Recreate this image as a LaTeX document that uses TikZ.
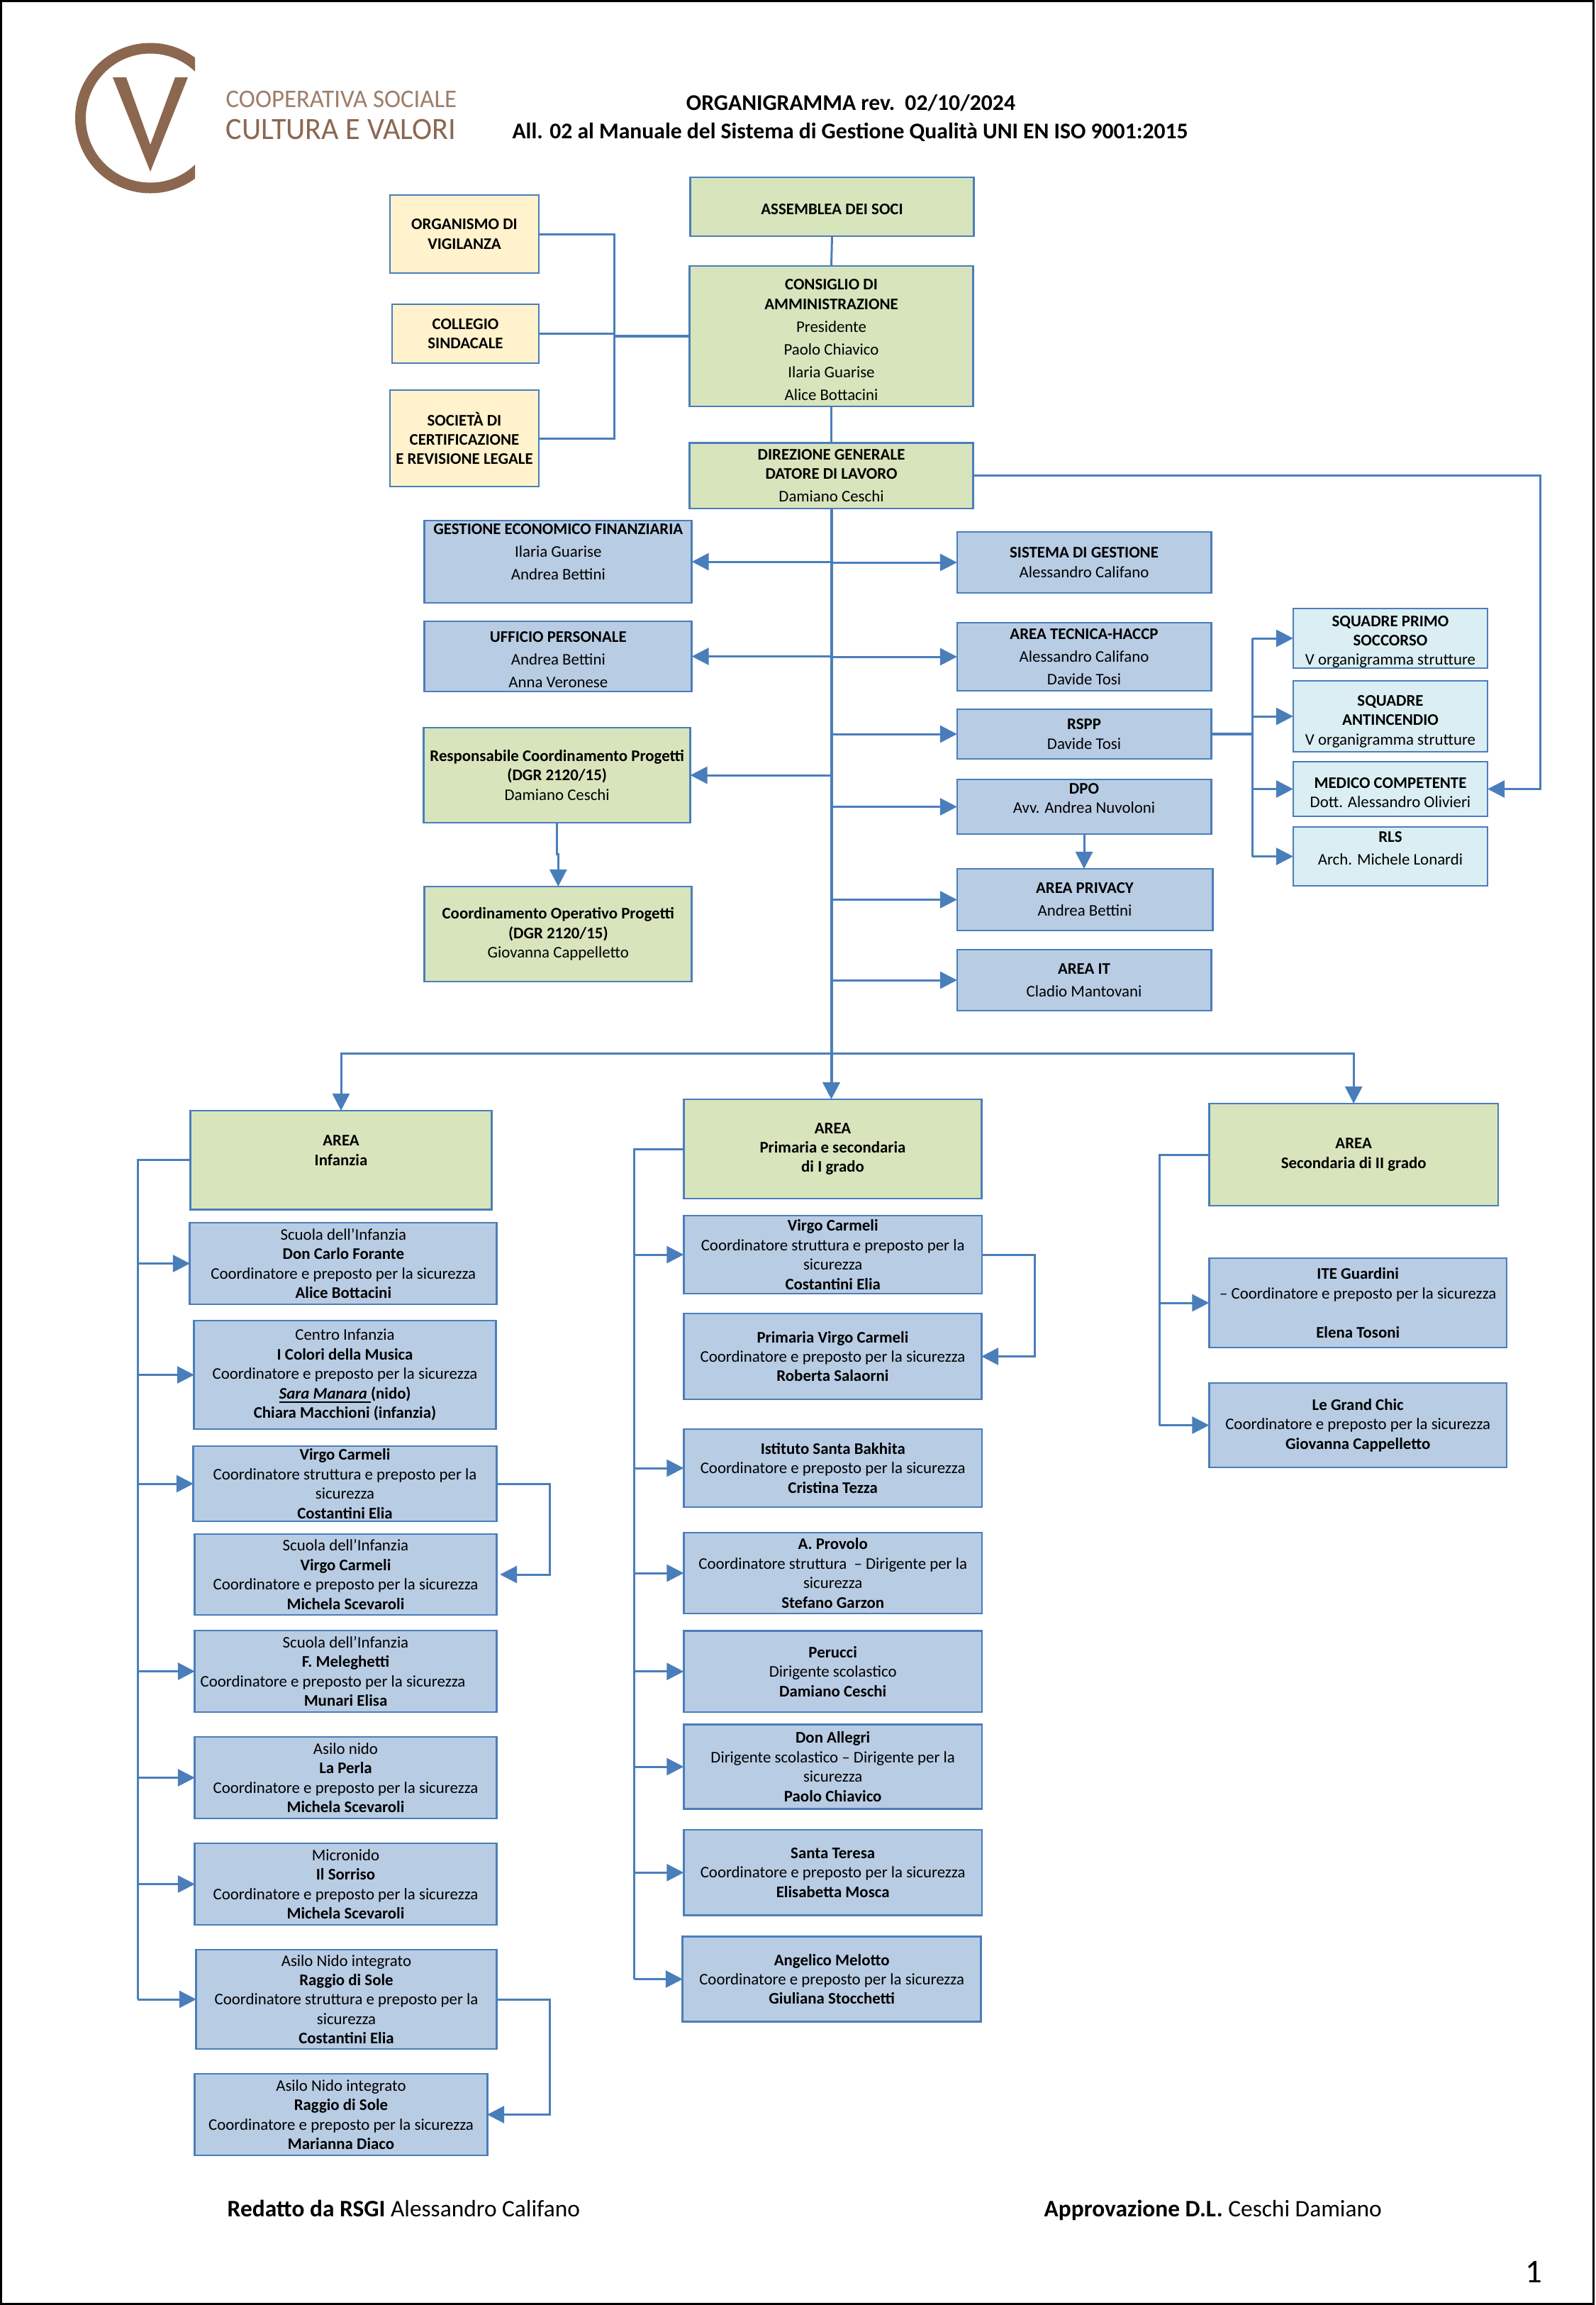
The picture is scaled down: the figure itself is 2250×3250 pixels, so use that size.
\documentclass[tikz,border=0pt]{standalone}
\usepackage{fontspec}
\setmainfont{Carlito}
\newfontfamily\logofont[FakeStretch=0.97]{Carlito}
\usetikzlibrary{positioning,arrows.meta}
\definecolor{linecol}{HTML}{4A7EBB}
\definecolor{bluefill}{HTML}{B8CCE4}
\definecolor{greenfill}{HTML}{D8E4BC}
\definecolor{creamfill}{HTML}{FFF2CC}
\definecolor{skyfill}{HTML}{DAEEF3}
\definecolor{logobrown}{HTML}{8C6750}
\newcommand\pad[1]{\rule{0pt}{#1pt}}
\tikzset{
    dims/.style 2 args={minimum width=#1cm,minimum height=#2cm},
    orgbox/.style={draw=linecol,line width=0.028cm,inner sep=0pt,outer sep=0pt,align=center,font=\fontsize{6.5}{7.8}\selectfont,execute at begin node={\pad{6.5}}},
    bluebox/.style={orgbox,fill=bluefill},
    greenbox/.style={orgbox,fill=greenfill},
    creambox/.style={orgbox,fill=creamfill},
    skybox/.style={orgbox,fill=skyfill},
    joinline/.style={draw=linecol,line width=0.03cm},
    trunkline/.style={draw=linecol,line width=0.04cm},
    arrowline/.style={joinline,-{Triangle[length=0.24cm,width=0.24cm]}}
}
\begin{document}
\begin{tikzpicture}[x=0.01cm,y=-0.01cm]
    \useasboundingbox (0,0) rectangle (2250,3250);
    \draw[black,line width=0.03cm] (1,1) rectangle (2247,3248.5);

    \begin{scope}
        \clip (90,50) rectangle (275,285);
        \draw[logobrown,line width=0.15cm] (212,166.5) circle (98.5);
    \end{scope}
    \fill[logobrown] (159,109) -- (178,109) -- (212,204) -- (247,109) -- (265,109) -- (212,242) -- cycle;
    \node[anchor=base west,inner sep=0pt,text=logobrown!85!white,font=\logofont\fontsize{10.2}{12}\selectfont] (logotop) at (318,151.5) {COOPERATIVA SOCIALE};
    \node[anchor=base west,inner sep=0pt,text=logobrown,font=\logofont\fontsize{12.4}{14}\selectfont] (logobot) at (318,196.5) {CULTURA E VALORI};

    \node[anchor=base,inner sep=0pt,font=\bfseries\fontsize{9}{10}\selectfont] (titleone) at (1200,155) {ORGANIGRAMMA rev.\ \ 02/10/2024};
    \node[anchor=base,inner sep=0pt,font=\bfseries\fontsize{9}{10}\selectfont] (titletwo) at (1199,195) {All. 02 al Manuale del Sistema di Gestione Qualità UNI EN ISO 9001:2015};

    \node[creambox,dims={2.10}{1.10}] (organismo) at (655,330) {\textbf{ORGANISMO DI}\\\textbf{VIGILANZA}};
    \node[creambox,dims={2.07}{0.83}] (collegio) at (656.5,470.5) {\textbf{COLLEGIO}\\\textbf{SINDACALE}};
    \node[creambox,dims={2.10}{1.36}] (societa) at (655,618) {\textbf{SOCIETÀ DI}\\\textbf{CERTIFICAZIONE}\\\textbf{E REVISIONE LEGALE}};

    \node[greenbox,dims={3.99}{0.83}] (assemblea) at (1173.5,291.5) {\textbf{ASSEMBLEA DEI SOCI}};
    \node[greenbox,dims={3.99}{1.98}] (consiglio) at (1172.5,474) {\pad{7.1}\textbf{CONSIGLIO DI}\\\textbf{AMMINISTRAZIONE}\\[1.3pt]Presidente\\[1.3pt]Paolo Chiavico\\[1.3pt]Ilaria Guarise\\[1.3pt]Alice Bottacini};
    \node[greenbox,dims={3.99}{0.925}] (direzione) at (1172.5,670.7) {\textbf{DIREZIONE GENERALE}\\\textbf{DATORE DI LAVORO}\\[1.3pt]Damiano Ceschi};

    \node[bluebox,dims={3.766}{1.16}] (gestione) at (787.3,792) {\textbf{GESTIONE ECONOMICO FINANZIARIA}\\[1.3pt]Ilaria Guarise\\[1.3pt]Andrea Bettini\\\mbox{}};
    \node[bluebox,dims={3.766}{0.99}] (ufficio) at (787.3,925.5) {\pad{7.1}\textbf{UFFICIO PERSONALE}\\[1.3pt]Andrea Bettini\\[1.3pt]Anna Veronese};
    \node[greenbox,dims={3.754}{1.34}] (respprog) at (785.7,1093) {\textbf{Responsabile Coordinamento Progetti}\\\textbf{(DGR 2120/15)}\\Damiano Ceschi};
    \node[greenbox,dims={3.766}{1.34}] (coordprog) at (787.3,1317) {\textbf{Coordinamento Operativo Progetti}\\\textbf{(DGR 2120/15)}\\Giovanna Cappelletto};

    \node[bluebox,dims={3.58}{0.86}] (sistema) at (1529,793) {\textbf{SISTEMA DI GESTIONE}\\Alessandro Califano};
    \node[bluebox,dims={3.58}{0.96}] (tecnica) at (1529,926) {\textbf{AREA TECNICA-HACCP}\\[1.3pt]Alessandro Califano\\[1.3pt]Davide Tosi};
    \node[bluebox,dims={3.58}{0.70}] (rspp) at (1529,1035) {\textbf{RSPP}\\Davide Tosi};
    \node[bluebox,dims={3.58}{0.77}] (dpo) at (1529,1137.5) {\textbf{DPO}\\Avv. Andrea Nuvoloni\\[-1pt]\mbox{}};
    \node[bluebox,dims={3.60}{0.87}] (privacy) at (1530,1268.5) {\textbf{AREA PRIVACY}\\[1.3pt]Andrea Bettini};
    \node[bluebox,dims={3.58}{0.86}] (areait) at (1529,1382) {\textbf{AREA IT}\\[1.3pt]Cladio Mantovani};

    \node[skybox,dims={2.74}{0.84}] (primosoc) at (1961,900) {\pad{7.1}\textbf{SQUADRE PRIMO}\\\textbf{SOCCORSO}\\V organigramma strutture};
    \node[skybox,dims={2.74}{1.00}] (antinc) at (1961,1010) {\pad{8.3}\textbf{SQUADRE}\\\textbf{ANTINCENDIO}\\V organigramma strutture};
    \node[skybox,dims={2.74}{0.77}] (medico) at (1961,1112.5) {\pad{7.1}\textbf{MEDICO COMPETENTE}\\Dott. Alessandro Olivieri};
    \node[skybox,dims={2.74}{0.83}] (rls) at (1961,1207.5) {\textbf{RLS}\\[1.3pt]Arch. Michele Lonardi\\[-1pt]\mbox{}};

    \node[greenbox,dims={4.25}{1.395}] (infanzia) at (481,1635.7) {\textbf{AREA}\\\textbf{Infanzia}\\\mbox{}};
    \node[bluebox,dims={4.326}{1.15}] (forante) at (484.3,1781.5) {Scuola dell'Infanzia\\\textbf{Don Carlo Forante}\\Coordinatore e preposto per la sicurezza\\\textbf{Alice Bottacini}};
    \node[bluebox,dims={4.25}{1.53}] (colori) at (486.5,1938.5) {Centro Infanzia\\\textbf{I Colori della Musica}\\Coordinatore e preposto per la sicurezza\\\underline{\textbf{\textit{Sara Manara\ }}}\textbf{(nido)}\\\textbf{Chiara Macchioni (infanzia)}};
    \node[bluebox,dims={4.27}{1.06}] (virgoinf) at (486.5,2092) {\textbf{Virgo Carmeli}\\Coordinatore struttura e preposto per la\\sicurezza\\\textbf{Costantini Elia}};
    \node[bluebox,dims={4.25}{1.14}] (scuolavirgo) at (487.5,2220) {Scuola dell'Infanzia\\\textbf{Virgo Carmeli}\\Coordinatore e preposto per la sicurezza\\\textbf{Michela Scevaroli}};
    \node[bluebox,dims={4.25}{1.15}] (meleghetti) at (487.5,2356.5) {Scuola dell'Infanzia\\\textbf{F. Meleghetti}\\Coordinatore e preposto per la sicurezza\rule{0.36cm}{0pt}\\\textbf{Munari Elisa}};
    \node[bluebox,dims={4.25}{1.15}] (perla) at (487.5,2506.5) {Asilo nido\\\textbf{La Perla}\\Coordinatore e preposto per la sicurezza\\\textbf{Michela Scevaroli}};
    \node[bluebox,dims={4.25}{1.15}] (sorriso) at (487.5,2656.5) {Micronido\\\textbf{Il Sorriso}\\Coordinatore e preposto per la sicurezza\\\textbf{Michela Scevaroli}};
    \node[bluebox,dims={4.23}{1.40}] (raggioa) at (488.5,2819) {Asilo Nido integrato\\\textbf{Raggio di Sole}\\Coordinatore struttura e preposto per la\\sicurezza\\\textbf{Costantini Elia}};
    \node[bluebox,dims={4.12}{1.15}] (raggiob) at (481,2981.5) {Asilo Nido integrato\\\textbf{Raggio di Sole}\\Coordinatore e preposto per la sicurezza\\\textbf{Marianna Diaco}};

    \node[greenbox,dims={4.19}{1.40}] (primaria) at (1174.5,1620) {\textbf{AREA}\\\textbf{Primaria e secondaria}\\\textbf{di I grado}};
    \node[bluebox,dims={4.205}{1.10}] (virgoprim) at (1174.7,1769) {\textbf{Virgo Carmeli}\\Coordinatore struttura e preposto per la\\sicurezza\\\textbf{Costantini Elia}};
    \node[bluebox,dims={4.19}{1.21}] (primvirgo) at (1174.5,1912.5) {\textbf{Primaria Virgo Carmeli}\\Coordinatore e preposto per la sicurezza\\\textbf{Roberta Salaorni}};
    \node[bluebox,dims={4.205}{1.10}] (bakhita) at (1174.7,2070) {\textbf{Istituto Santa Bakhita}\\Coordinatore e preposto per la sicurezza\\\textbf{Cristina Tezza}};
    \node[bluebox,dims={4.205}{1.14}] (provolo) at (1174.7,2218) {\textbf{A. Provolo}\\Coordinatore struttura\ \ – Dirigente per la\\sicurezza\\\textbf{Stefano Garzon}};
    \node[bluebox,dims={4.205}{1.145}] (perucci) at (1174.7,2356.7) {\textbf{Perucci}\\Dirigente scolastico\\\textbf{Damiano Ceschi}};
    \node[bluebox,dims={4.205}{1.19}] (allegri) at (1174.7,2491) {\textbf{Don Allegri}\\Dirigente scolastico – Dirigente per la\\sicurezza\\\textbf{Paolo Chiavico}};
    \node[bluebox,dims={4.205}{1.206}] (teresa) at (1174.7,2640.3) {\textbf{Santa Teresa}\\Coordinatore e preposto per la sicurezza\\\textbf{Elisabetta Mosca}};
    \node[bluebox,dims={4.205}{1.20}] (melotto) at (1173.2,2790.5) {\textbf{Angelico Melotto}\\Coordinatore e preposto per la sicurezza\\\textbf{Giuliana Stocchetti}};

    \node[greenbox,dims={4.075}{1.44}] (secondaria) at (1909.2,1628) {\textbf{AREA}\\\textbf{Secondaria di II grado}};
    \node[bluebox,dims={4.195}{1.26}] (guardini) at (1915.2,1837) {\textbf{ITE Guardini}\\– Coordinatore e preposto per la sicurezza\\ \\\textbf{Elena Tosoni}};
    \node[bluebox,dims={4.195}{1.19}] (grandchic) at (1915.2,2009.5) {\textbf{Le Grand Chic}\\Coordinatore e preposto per la sicurezza\\\textbf{Giovanna Cappelletto}};

    \node[anchor=base west,inner sep=0pt,font=\fontsize{9.5}{11}\selectfont] (redatto) at (320,3125) {\textbf{Redatto da RSGI} Alessandro Califano};
    \node[anchor=base west,inner sep=0pt,font=\fontsize{9.5}{11}\selectfont] (approva) at (1472,3125) {\textbf{Approvazione D.L.} Ceschi Damiano};
    \node[anchor=base,inner sep=0pt,font=\fontsize{13.3}{15}\selectfont] (pagenum) at (2163,3218) {1};

    \coordinate (legalbus) at (866,474);
    \draw[joinline] (organismo.east) -- (legalbus |- organismo.east) -- (legalbus |- societa.east) -- (societa.east);
    \draw[joinline] (collegio.east) -- (legalbus |- collegio.east);
    \draw[trunkline] (legalbus) -- (consiglio.west);
    \draw[joinline] (assemblea.south) -- (consiglio.north);
    \draw[joinline] (consiglio.south) -- (direzione.north);

    \draw[trunkline,arrowline,line width=0.04cm] (direzione.south) -- (direzione.south |- primaria.north);
    \foreach \target in {sistema,tecnica,rspp,dpo,privacy,areait}
        \draw[arrowline] (direzione.south |- \target.west) -- (\target.west);
    \foreach \target in {gestione,ufficio,respprog}
        \draw[arrowline] (direzione.south |- \target.east) -- (\target.east);
    \draw[arrowline] (respprog.south) -- ++(0,44) -| (coordprog.north);
    \draw[arrowline] (dpo.south) -- (dpo.south |- privacy.north);
    \draw[arrowline] (direzione.east) -- (2172,670.7) |- (medico.east);

    \coordinate (safetybus) at (1766,1035);
    \draw[trunkline] (rspp.east) -- (safetybus);
    \draw[joinline] (safetybus |- primosoc.west) -- (safetybus |- rls.west);
    \foreach \target in {primosoc,antinc,medico,rls}
        \draw[arrowline] (safetybus |- \target.west) -- (\target.west);

    \coordinate (areabus) at (1172.5,1485);
    \draw[arrowline] (areabus) -| (infanzia.north);
    \draw[arrowline] (areabus) -| (secondaria.north);

    \coordinate (infbus) at (194,1635.7);
    \draw[joinline] (infanzia.west) -- (infbus) -- (infbus |- raggioa.west);
    \foreach \target in {forante,colori,virgoinf,meleghetti,perla,sorriso,raggioa}
        \draw[arrowline] (infbus |- \target.west) -- (\target.west);
    \draw[arrowline] (virgoinf.east) -- ++(75,0) |- ([xshift=0.05cm]scuolavirgo.east);
    \draw[arrowline] (raggioa.east) -- ++(75,0) |- (raggiob.east);

    \coordinate (primbus) at (894.5,1620);
    \draw[joinline] (primaria.west) -- (primbus) -- (primbus |- melotto.west);
    \foreach \target in {virgoprim,bakhita,provolo,perucci,allegri,teresa,melotto}
        \draw[arrowline] (primbus |- \target.west) -- (\target.west);
    \draw[arrowline] (virgoprim.east) -- ++(74,0) |- (primvirgo.east);

    \coordinate (secbus) at (1635,1628);
    \draw[joinline] (secondaria.west) -- (secbus) -- (secbus |- grandchic.west);
    \foreach \target in {guardini,grandchic}
        \draw[arrowline] (secbus |- \target.west) -- (\target.west);
\end{tikzpicture}
\end{document}
